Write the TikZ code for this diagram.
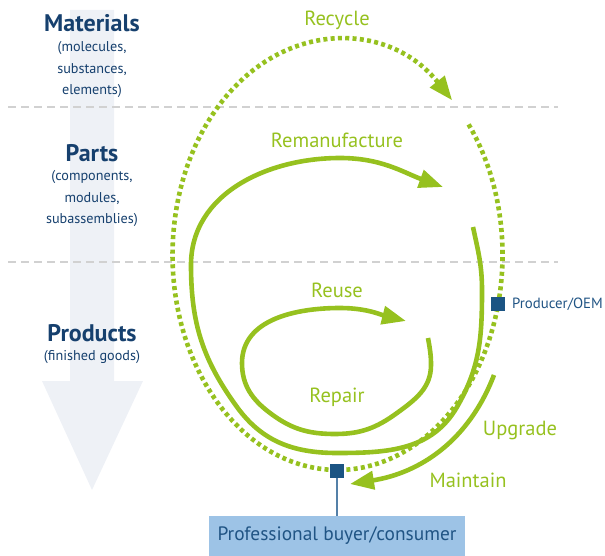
\documentclass[tikz,border=0pt]{standalone}
\usepackage{fontspec}
\setmainfont{PT Sans}
\usetikzlibrary{arrows.meta}
\definecolor{leaf}{RGB}{150,193,31}
\definecolor{navy}{RGB}{22,64,110}
\definecolor{inkblue}{RGB}{32,84,132}
\definecolor{oem}{RGB}{27,84,131}
\definecolor{buyer}{RGB}{157,195,230}
\definecolor{haze}{RGB}{238,241,246}
\definecolor{steel}{RGB}{84,128,168}

\begin{document}
\begin{tikzpicture}[x=1pt, y=-1pt,
    level/.style={font=\bfseries\fontsize{24}{26}\selectfont, text=navy, inner sep=0pt},
    levelsub/.style={font=\fontsize{14.2}{21.5}\selectfont, text=navy, align=center, inner sep=0pt},
    cyclelabel/.style={font=\fontsize{20.5}{22}\selectfont, text=leaf, inner sep=0pt},
    cycleline/.style={draw=leaf, line width=4.6pt, -{Triangle[length=24pt,width=18pt]}},
    cycledots/.style={cycleline, dash pattern=on 4pt off 3.3pt},
    sepline/.style={draw=black!18, line width=1.5pt, dash pattern=on 8pt off 5pt},
    marker/.style={draw=none, fill=oem, minimum size=14pt, inner sep=0pt}]

    \useasboundingbox (0,0) rectangle (605,556);

    % Background arrow
    \fill[haze] (70,10) -- (114,10) -- (114,381) -- (143,381) -- (92,490)
        -- (42,381) -- (70,381) -- cycle;

    % Separators
    \draw[sepline] (8,107) -- (558,107);
    \draw[sepline] (8,262) -- (558,262);

    % Levels
    \node[level] (mat) at (92,23) {Materials};
    \node[levelsub] (matsub) at (92,70) {(molecules,\\substances,\\elements)};
    \node[level] (part) at (92,153) {Parts};
    \node[levelsub] (partsub) at (92,199) {(components,\\modules,\\subassemblies)};
    \node[level] (prod) at (92,333) {Products};
    \node[levelsub] (prodsub) at (92,357) {(finished goods)};

    % Loops
    \draw[cycledots] (468.6,124.4) arc[start angle=-37.4, end angle=314, x radius=165, y radius=215];
    \draw[cycleline] (473,227) to[out=-78,in=90] (482,290) to[out=-90,in=60] (457,407)
        to[out=240,in=0] (337,453) to[out=180,in=-54] (237,407) to[out=126,in=-90] (191,265)
        to[out=90,in=180] (340,158) to[out=0,in=160] (443,187);
    \draw[cycleline] (428,338) to[out=-80,in=90] (431,365) to[out=-90,in=36] (397,413)
        to[out=216,in=0] (335,434) to[out=180,in=-37] (270,413) to[out=143,in=-90] (242,363)
        to[out=90,in=180] (340,308) to[out=0,in=166] (406,321);
    \draw[cycleline] (494,375) to[out=-111,in=9] (350,484);

    % Loop labels
    \node[cyclelabel] (recycle) at (337,20) {Recycle};
    \node[cyclelabel] (reman) at (337,140) {Remanufacture};
    \node[cyclelabel] (reuse) at (337,290) {Reuse};
    \node[cyclelabel] (repair) at (337,397) {Repair};
    \node[cyclelabel] (upgrade) at (520,430) {Upgrade};
    \node[cyclelabel] (maintain) at (468,480) {Maintain};

    % Actors
    \node[marker] (oem) at (498,304) {};
    \node[anchor=west, inner sep=0pt, text=inkblue, font=\fontsize{14.8}{16}\selectfont]
        (oemtext) at (512,304) {Producer/OEM};
    \node[marker] (user) at (337,471) {};
    \node[fill=buyer, minimum width=256pt, minimum height=40pt, inner sep=0pt,
        text=inkblue, font=\fontsize{19.4}{22}\selectfont] (buyerbox) at (337,536)
        {Professional buyer/consumer};
    \draw[steel, line width=1.5pt] (user) -- (buyerbox);
\end{tikzpicture}
\end{document}
